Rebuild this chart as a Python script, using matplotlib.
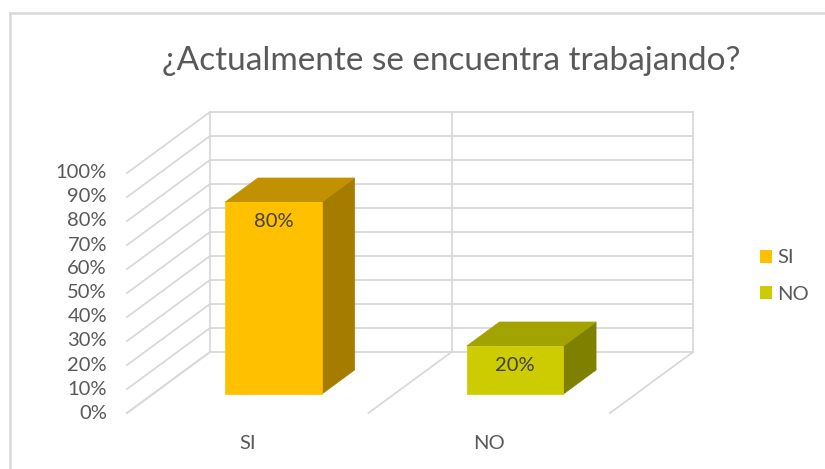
import matplotlib
matplotlib.use("Agg")
import matplotlib.pyplot as plt
from matplotlib.patches import Polygon, Patch
from matplotlib.lines import Line2D

# ---- data ----
categories = ["SI", "NO"]
values = [0.80, 0.20]
value_labels = ["80%", "20%"]
tick_values = [0.0, 0.1, 0.2, 0.3, 0.4, 0.5, 0.6, 0.7, 0.8, 0.9, 1.0]
tick_labels = ["0%", "10%", "20%", "30%", "40%", "50%", "60%", "70%", "80%", "90%", "100%"]
title = "¿Actualmente se encuentra trabajando?"

# ---- styling ----
FONT = "Lato"
TEXT = "#595959"
GRID = "#d9d9d9"
front_cols = ["#ffc000", "#cccc00"]
top_cols = ["#c29100", "#a3a300"]
side_cols = ["#a67c00", "#808000"]

W, H, DPI = 825, 469, 100
fig = plt.figure(figsize=(W / DPI, H / DPI), dpi=DPI)
fig.patch.set_facecolor("white")
ax = fig.add_axes([0, 0, 1, 1])
ax.axis("off")

# Back-plane data units: x in categories, y in value fraction
PX_CAT = 241.5     # pixels per category on the back wall
PX_VAL = 240.0     # pixels per 100% on the back wall
X0, Y0 = 210.0, 352.0   # pixel of (x=0, v=0) on the back wall
ax.set_xlim(-X0 / PX_CAT, (W - X0) / PX_CAT)
ax.set_ylim((Y0 - H) / PX_VAL, Y0 / PX_VAL)

# oblique depth offset (back -> front)
DX = -83.0 / PX_CAT
DY = -61.0 / PX_VAL


def proj(x, v, zf):
    """Project a point: zf=0 back wall, zf=1 front edge."""
    return (x + DX * zf, v + DY * zf)


n = len(categories)

# back wall gridlines
for t in tick_values:
    ax.plot([0, n], [t, t], color=GRID, lw=1.3, zorder=1, solid_capstyle="butt")
for k in range(n + 1):
    ax.plot([k, k], [0, tick_values[-1]], color=GRID, lw=1.3, zorder=1)

# side wall gridlines
for t in tick_values:
    p0 = proj(0, t, 0)
    p1 = proj(0, t, 1)
    ax.plot([p0[0], p1[0]], [p0[1], p1[1]], color=GRID, lw=1.3, zorder=1)

# floor gridlines
for k in range(n + 1):
    p0 = proj(k, 0, 0)
    p1 = proj(k, 0, 1)
    ax.plot([p0[0], p1[0]], [p0[1], p1[1]], color=GRID, lw=1.3, zorder=1)

# value axis labels
for t, lab in zip(tick_values, tick_labels):
    x, y = proj(0, t, 1)
    ax.text(x - 20 / PX_CAT, y, lab, ha="right", va="center",
            fontsize=14.5, color=TEXT, family=FONT)

# category labels
for i, c in enumerate(categories):
    x, y = proj(i + 0.5, 0, 1)
    ax.text(x, y - 30 / PX_VAL, c, ha="center", va="center",
            fontsize=14.5, color=TEXT, family=FONT)

# 3D bars
BAR_L, BAR_R = 0.30, 0.70
Z_FRONT, Z_BACK = 0.689, 0.295
for i, v in enumerate(values):
    xl, xr = i + BAR_L, i + BAR_R
    front = [proj(xl, 0, Z_FRONT), proj(xr, 0, Z_FRONT),
             proj(xr, v, Z_FRONT), proj(xl, v, Z_FRONT)]
    top = [proj(xl, v, Z_FRONT), proj(xr, v, Z_FRONT),
           proj(xr, v, Z_BACK), proj(xl, v, Z_BACK)]
    side = [proj(xr, 0, Z_FRONT), proj(xr, 0, Z_BACK),
            proj(xr, v, Z_BACK), proj(xr, v, Z_FRONT)]
    ax.add_patch(Polygon(side, closed=True, fc=side_cols[i], ec=side_cols[i], lw=0.5, zorder=3))
    ax.add_patch(Polygon(top, closed=True, fc=top_cols[i], ec=top_cols[i], lw=0.5, zorder=3))
    ax.add_patch(Polygon(front, closed=True, fc=front_cols[i], ec=front_cols[i], lw=0.5, zorder=4))
    cx, cy = proj(i + 0.5, v, Z_FRONT)
    ax.text(cx, cy - 19 / PX_VAL, value_labels[i], ha="center", va="center",
            fontsize=14.5, color="#404040", family=FONT, zorder=5)

# title
ax.text(451 / W, 1 - 61 / H, title, transform=fig.transFigure, ha="center", va="center",
        fontsize=24, color=TEXT, family=FONT)

# legend
handles = [Patch(fc=front_cols[i], ec="none") for i in range(n)]
leg = fig.legend(handles, categories, loc="center left",
                 bbox_to_anchor=(760 / W, 1 - 276 / H), frameon=False,
                 prop={"family": FONT, "size": 14.5}, labelcolor=TEXT,
                 handlelength=0.62, handleheight=0.62, handletextpad=0.25,
                 labelspacing=0.95, borderpad=0, borderaxespad=0)

# chart area border (left and top edges visible)
fig.add_artist(Line2D([10 / W, 10 / W], [0, 1 - 13 / H], transform=fig.transFigure,
                      color=GRID, lw=1.8))
fig.add_artist(Line2D([10 / W, 1], [1 - 13 / H, 1 - 13 / H], transform=fig.transFigure,
                      color=GRID, lw=1.8))

fig.savefig("out.png", dpi=DPI)
